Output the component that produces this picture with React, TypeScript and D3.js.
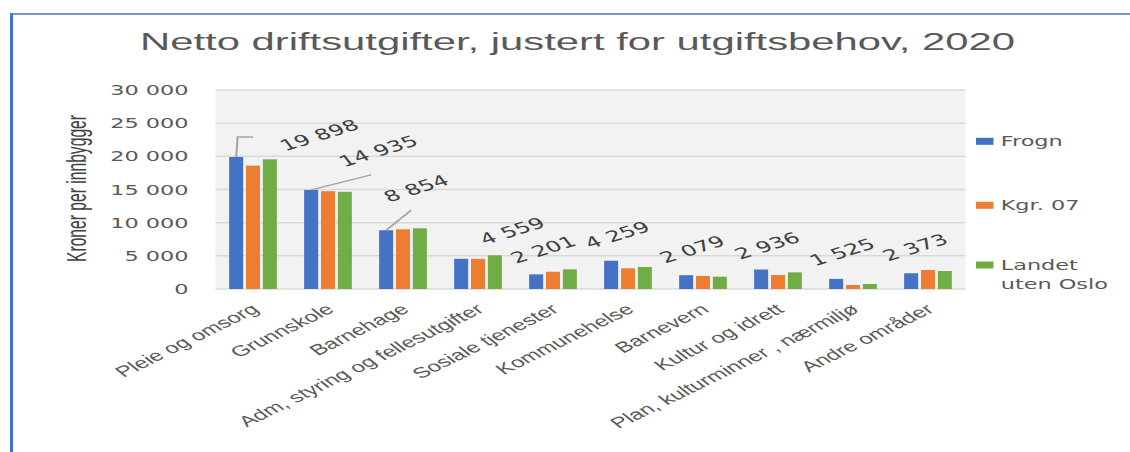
import React from "react";
import * as d3 from "d3";

// The reference image is horizontally stretched; we draw in an unstretched
// coordinate space and stretch with the viewBox.
const S = 1.6;
const W = 1130;
const H = 452;
const VW = W / S;
const X = (px: number) => px / S;

const title = "Netto driftsutgifter, justert for utgiftsbehov, 2020";
const yAxisTitle = "Kroner per innbygger";

const categories = [
  "Pleie og omsorg",
  "Grunnskole",
  "Barnehage",
  "Adm, styring og fellesutgifter",
  "Sosiale tjenester",
  "Kommunehelse",
  "Barnevern",
  "Kultur og idrett",
  "Plan, kulturminner , nærmiljø",
  "Andre områder",
];
const seriesNames = ["Frogn", "Kgr. 07", "Landet uten Oslo"];
const legendLines = [["Frogn"], ["Kgr. 07"], ["Landet", "uten Oslo"]];
const frogn = [19898, 14935, 8854, 4559, 2201, 4259, 2079, 2936, 1525, 2373];
const kgr07 = [18600, 14750, 9000, 4550, 2600, 3120, 1960, 2110, 600, 2860];
const landet = [19550, 14650, 9150, 5080, 2970, 3320, 1860, 2510, 750, 2710];
const yTicks = [0, 5000, 10000, 15000, 20000, 25000, 30000];
const colors = ["#4472C4", "#ED7D31", "#70AD47"];

// layout (image px) for the manually placed data labels of Frogn
const labelOffsets = [
  [83, -22], [67, -39], [30, -42], [51, -28], [7, -25],
  [6, -26], [6, -26], [6, -24], [6, -27], [4, -26],
];
const leaders: (number[][] | null)[] = [
  [[0, 0], [1.5, -20], [17, -20]],
  [[0, 0], [60, -15]],
  [[0, 0], [25, -20]],
  null, null, null, null, null, null, null,
];

const fmt = d3.formatLocale({
  decimal: ",",
  thousands: " ",
  grouping: [3],
  currency: ["", ""],
}).format(",d");

export default function App() {
  const plotL = 215.5, plotR = 965.5, plotT = 90, plotB = 289;
  const y = d3.scaleLinear().domain([0, 30000]).range([plotB, plotT]);
  const x0 = d3
    .scaleBand<string>()
    .domain(categories)
    .range([X(plotL), X(plotR)])
    .paddingInner(0.364)
    .paddingOuter(0.182);
  const x1 = d3
    .scaleBand<string>()
    .domain(seriesNames)
    .range([0, x0.bandwidth()])
    .paddingInner(0.17);
  const series = [frogn, kgr07, landet];

  const tickFont = "DejaVu Sans, Verdana, sans-serif";
  const textFont = "Liberation Sans, Arial, sans-serif";

  return (
    <svg
      width={W}
      height={H}
      viewBox={`0 0 ${VW} ${H}`}
      preserveAspectRatio="none"
      style={{ position: "absolute", left: 0, top: 0, background: "#fff" }}
    >
      {/* frame */}
      <line x1={X(10)} x2={VW} y1={14} y2={14} stroke="#4472C4" strokeWidth={1.5} />
      <line x1={X(11.5)} x2={X(11.5)} y1={13.3} y2={H} stroke="#4472C4" strokeWidth={3 / S} />

      {/* title */}
      <text
        x={X(577.5)}
        y={50}
        textAnchor="middle"
        fontFamily={textFont}
        fontSize={23.5}
        fill="#595959"
        textLength={X(875)}
        lengthAdjust="spacingAndGlyphs"
      >
        {title}
      </text>

      {/* plot background */}
      <rect x={X(plotL)} y={plotT} width={X(plotR) - X(plotL)} height={plotB - plotT} fill="#f2f2f2" />
      {yTicks.map((t) => (
        <line key={t} x1={X(plotL)} x2={X(plotR)} y1={y(t)} y2={y(t)} stroke="#d9d9d9" strokeWidth={1.5} />
      ))}

      {/* y tick labels */}
      {yTicks.map((t) => (
        <text
          key={t}
          x={X(188.5)}
          y={y(t)}
          dy="0.36em"
          textAnchor="end"
          fontFamily={tickFont}
          fontSize={14}
          fill="#595959"
        >
          {fmt(t)}
        </text>
      ))}

      {/* y axis title */}
      <text
        transform={`translate(${X(76)},${188.5}) rotate(-90)`}
        textAnchor="middle"
        dy="0.35em"
        fontFamily={textFont}
        fontSize={17}
        fill="#404040"
        textLength={147}
        lengthAdjust="spacingAndGlyphs"
      >
        {yAxisTitle}
      </text>

      {/* bars */}
      {categories.map((c, i) => (
        <g key={c} transform={`translate(${x0(c)},0)`}>
          {seriesNames.map((s, j) => (
            <rect
              key={s}
              x={x1(s)}
              y={y(series[j][i])}
              width={x1.bandwidth()}
              height={y(0) - y(series[j][i])}
              fill={colors[j]}
            />
          ))}
        </g>
      ))}

      {/* leaders + data labels */}
      {categories.map((c, i) => {
        const bx = (x0(c) as number) + (x1(seriesNames[0]) as number) + x1.bandwidth() / 2;
        const by = y(frogn[i]);
        const ld = leaders[i];
        const [dx, dy] = labelOffsets[i];
        return (
          <g key={c}>
            {ld && (
              <polyline
                points={ld.map(([a, b]) => `${bx + X(a)},${by + b}`).join(" ")}
                fill="none"
                stroke="#a6a6a6"
                strokeWidth={1.3}
              />
            )}
            <text
              transform={`translate(${bx + X(dx)},${by + dy}) rotate(-26)`}
              textAnchor="middle"
              dy="0.36em"
              fontFamily={tickFont}
              fontSize={15}
              fill="#404040"
            >
              {fmt(frogn[i])}
            </text>
          </g>
        );
      })}

      {/* x labels */}
      {categories.map((c) => {
        const cx = (x0(c) as number) + x0.bandwidth() / 2 + X(2);
        return (
          <text
            key={c}
            transform={`translate(${cx},${307}) rotate(-38)`}
            textAnchor="end"
            dy="0.35em"
            fontFamily={textFont}
            fontSize={15}
            fill="#595959"
          >
            {c}
          </text>
        );
      })}

      {/* legend */}
      {legendLines.map((lines, k) => {
        const cy = [141.3, 205.3, 265][k];
        return (
          <g key={k}>
            <rect x={X(976)} y={cy - 3.5} width={X(993.5) - X(976)} height={7} fill={colors[k]} />
            {lines.map((ln, m) => (
              <text
                key={m}
                x={X(1000.7)}
                y={cy + m * 18.5}
                dy="0.36em"
                fontFamily={tickFont}
                fontSize={14}
                fill="#595959"
              >
                {ln}
              </text>
            ))}
          </g>
        );
      })}
    </svg>
  );
}
